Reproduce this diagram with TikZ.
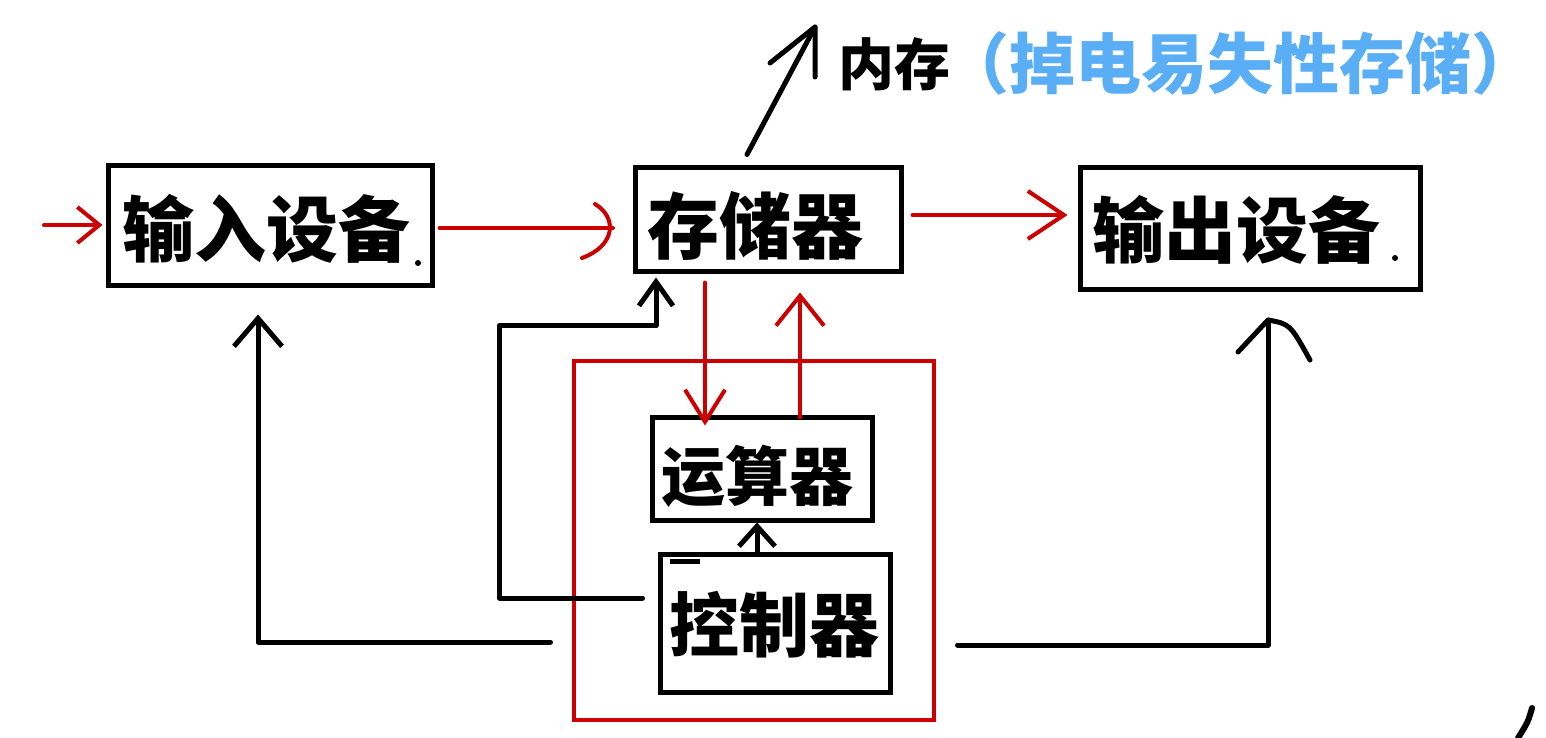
\documentclass[tikz,border=0pt]{standalone}
\usepackage{fontspec}
\newfontfamily\cjk{Noto Sans CJK SC}
\usetikzlibrary{arrows.meta,calc}
\definecolor{hred}{HTML}{CC0000}
\definecolor{hblue}{HTML}{5AAEF5}
\tikzset{
  box/.style={draw, line width=2.5pt, inner sep=0pt},
  txt/.style={inner sep=0pt, font=\cjk\bfseries\fontsize{36}{40}\selectfont},
  rline/.style={draw=hred, line width=2pt, line cap=round, line join=round},
  bline/.style={draw=black, line width=2.5pt, line cap=round, line join=round},
}
\begin{document}
\begin{tikzpicture}[x=0.5pt,y=-0.5pt]
\useasboundingbox[fill=white] (0,0) rectangle (1546,738);
% red CPU frame
\node[draw=hred, line width=2pt, inner sep=0pt, minimum width=180pt, minimum height=179.5pt] (cpu) at (754,540.5) {};
% boxes
\node[box, minimum width=162pt, minimum height=60pt] (in) at (270,225) {};
\node[box, minimum width=133pt, minimum height=52pt] (mem) at (768,219) {};
\node[box, minimum width=170pt, minimum height=61pt] (out) at (1250,228) {};
\node[box, minimum width=110pt, minimum height=51.5pt] (alu) at (762,468.5) {};
\node[box, minimum width=115pt, minimum height=69pt] (ctl) at (775,623) {};
% texts
\node[txt] (inT) at (266,229) {输入设备};
\node[txt] (memT) at (755,226) {存储器};
\node[txt] (outT) at (1236,230) {输出设备};
\node[txt, font=\cjk\bfseries\fontsize{32}{36}\selectfont] (aluT) at (757,476) {运算器};
\node[txt, font=\cjk\bfseries\fontsize{35}{38}\selectfont] (ctlT) at (774,625) {控制器};
\node[txt, font=\cjk\bfseries\fontsize{28}{32}\selectfont] (ram) at (894,64) {内存};
\node[txt, text=hblue, font=\cjk\bfseries\fontsize{33}{36}\selectfont] (note) at (1240,63) {（掉电易失性存储）};
% small dots and marks
\fill (418,263) circle (1.5pt);
\fill (1395,258) circle (1.5pt);
\draw[line width=2.5pt] (670,561) -- (700,561);
\draw[line width=3pt, line cap=round] (1532,708) .. controls (1528,722) .. (1518,738);
% free ends
\coordinate (src) at (44,225);
\coordinate (ramtip) at (815,27);
\coordinate (redtip) at (613,228);
\coordinate (outtip) at (1268,320);
% red arrows
\draw[rline, -{Straight Barb[length=11pt,width=18pt]}] (src) -- ($(in.west)+(-3,0)$);
\draw[rline] ($(in.east)+(5,3)$) -- (redtip);
\draw[rline] (595,204) .. controls (618,218) and (615,246) .. (582,258);
\draw[rline, -{Straight Barb[length=18pt,width=24pt]}] ($(mem.east)+(9,-4)$) -- ($(out.west)+(-10,-13)$);
\draw[rline, -{Straight Barb[length=16pt,width=20pt]}] ($(mem.south)+(-63,9)$) -- ($(alu.north)+(-57,11)$);
\draw[rline, -{Straight Barb[length=15pt,width=24pt]}] ($(alu.north)+(38,3)$) -- ($(mem.south)+(32,19)$);
% black arrows
\draw[bline] ($(mem.north)+(-21,-10)$) -- (ramtip);
\draw[bline] (770,63) -- (ramtip) -- (815,77);
\draw[bline, -{Straight Barb[length=14pt,width=24pt]}] ($(ctl.west)+(-107,19)$) -| ($(in.south)+(-12,27)$);
\draw[bline] ($(ctl.east)+(65,22)$) -| (outtip);
\draw[bline] (1238,352) -- (outtip) .. controls (1290,324) .. (1310,360);
\draw[bline, -{Straight Barb[length=12pt,width=17pt]}] ($(ctl.west)+(-15,-25)$) -- ++(-143,0) |- ($(mem.south)+(-112,52)$) -- ($(mem.south)+(-112,4)$);
\draw[bline, -{Straight Barb[length=10pt,width=18pt]}] ($(ctl.north)+(-18,0)$) -- ($(alu.south)+(-5,0)$);
\end{tikzpicture}
\end{document}
